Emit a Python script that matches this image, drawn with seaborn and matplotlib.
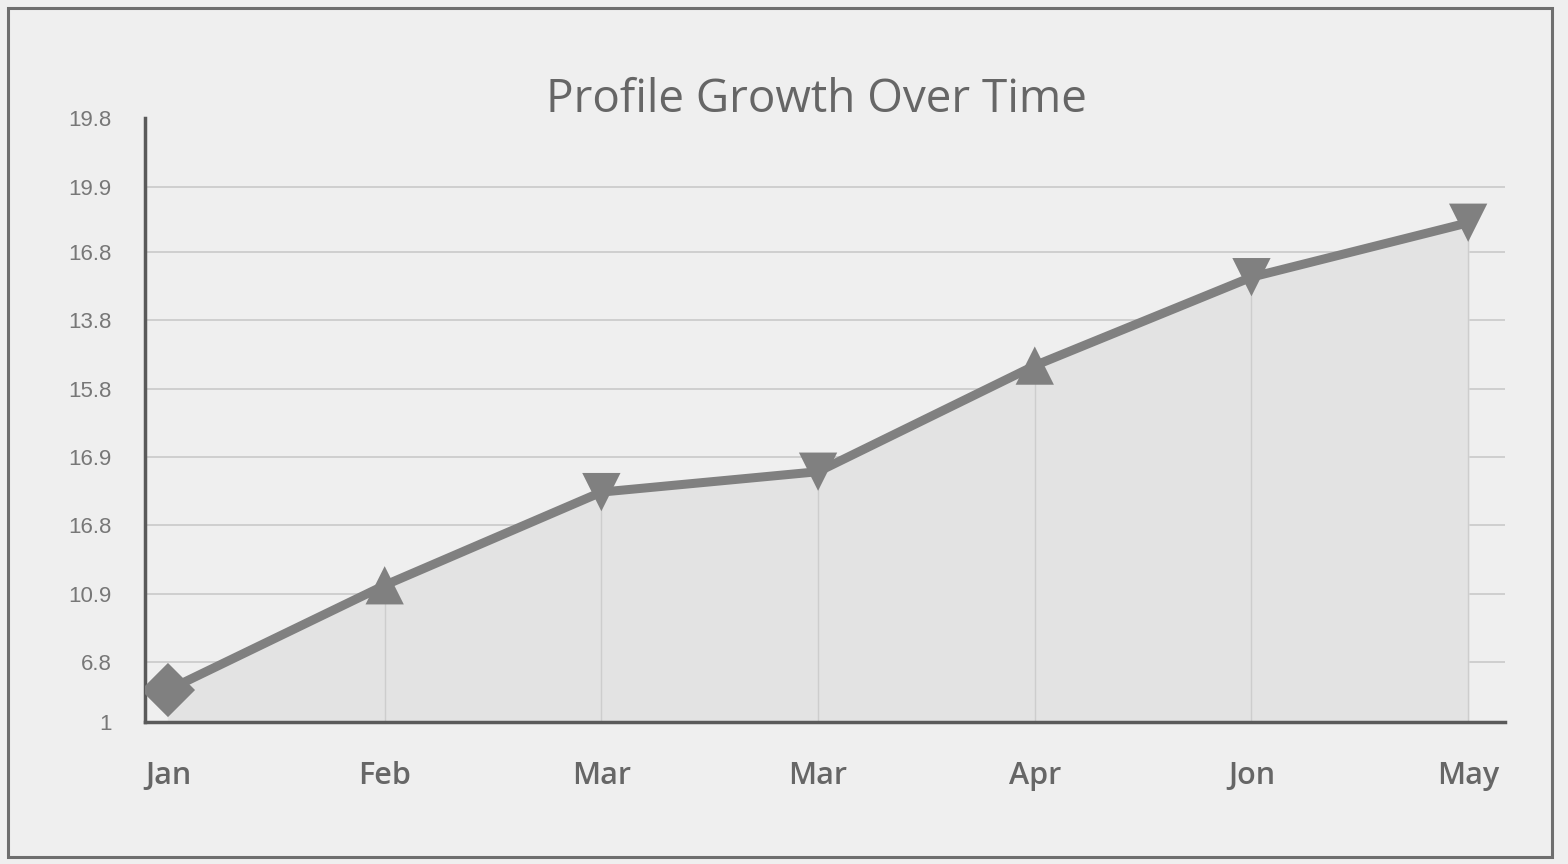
import numpy as np
import matplotlib
matplotlib.use("Agg")
import matplotlib.pyplot as plt
import pandas as pd
import seaborn as sns
from matplotlib.patches import Rectangle

####data####
months = ["Jan", "Feb", "Mar", "Mar", "Apr", "Jon", "May"]
growth = [0.47, 2.01, 3.38, 3.68, 5.24, 6.54, 7.34]
marker_kind = ["diamond", "up", "down", "down", "up", "down", "down"]
ytick_pos = [0, 0.88, 1.88, 2.9, 3.9, 4.9, 5.91, 6.91, 7.87, 8.88]
ytick_labels = ["1", "6.8", "10.9", "16.8", "16.9", "15.8", "13.8", "16.8", "19.9", "19.8"]

df = pd.DataFrame({"x": np.arange(len(months)), "y": growth, "kind": marker_kind})

####style####
sns.set_style("white")
plt.rcParams["font.family"] = ["Open Sans", "DejaVu Sans"]

bg = "#efefef"
line_c = "#808080"
axis_c = "#5a5a5a"
text_c = "#666666"

fig = plt.figure(figsize=(15.68, 8.64), dpi=100)
fig.patch.set_facecolor(bg)
ax = fig.add_axes([145 / 1568, 1 - 722 / 864, (1505 - 145) / 1568, (722 - 118) / 864])
ax.set_facecolor(bg)

# outer frame
fig.patches.append(Rectangle((8 / 1568, 7 / 864), 1544 / 1568, 849 / 864, transform=fig.transFigure,
                             fill=False, edgecolor="#6e6e6e", linewidth=2.2))

# grid
for yv in ytick_pos[1:-1]:
    ax.axhline(yv, color="#cfcfcf", linewidth=1.4, zorder=0)

# area + drop lines
ax.fill_between(df["x"], 0, df["y"], color="#e3e3e3", zorder=1)
ax.vlines(df["x"][1:], 0, df["y"][1:], color="#cdcdcd", linewidth=1.0, zorder=1)

sns.lineplot(data=df, x="x", y="y", color=line_c, linewidth=6.5, ax=ax, zorder=3)
sns.scatterplot(data=df, x="x", y="y", style="kind",
                markers={"diamond": "D", "up": "^", "down": "v"},
                color=line_c, s=760, edgecolor=line_c, linewidth=0, legend=False, ax=ax, zorder=4)

ax.set_xlim(-0.106, 6.17)
ax.set_ylim(0, 8.88)
ax.set_xticks(df["x"])
ax.set_xticklabels(months, fontsize=22, fontweight="semibold", color=text_c)
ax.set_yticks(ytick_pos)
ax.set_yticklabels(ytick_labels, fontsize=16, color="#777777", family=["Liberation Sans", "DejaVu Sans"])
ax.tick_params(axis="x", length=6, width=1.2, color=axis_c, pad=22)
ax.tick_params(axis="y", length=22, width=1.5, color="#8a8a8a", pad=2)
ax.set_xlabel("")
ax.set_ylabel("")

for s in ["top", "right"]:
    ax.spines[s].set_visible(False)
ax.spines["left"].set_color(axis_c)
ax.spines["left"].set_linewidth(2.5)
ax.spines["bottom"].set_color(axis_c)
ax.spines["bottom"].set_linewidth(2.5)

fig.text(816 / 1568, 1 - 100 / 864, "Profile Growth Over Time", ha="center", va="center",
         fontsize=33, color=text_c)

fig.savefig("out.png", dpi=100, facecolor=bg)
